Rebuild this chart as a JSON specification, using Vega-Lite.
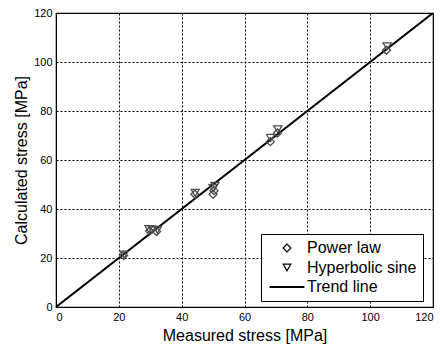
{
  "$schema": "https://vega.github.io/schema/vega-lite/v6.json",
  "width": 377,
  "height": 294,
  "autosize": {"type": "none"},
  "padding": {"left": 56, "top": 13, "right": 7, "bottom": 37},
  "background": "white",
  "config": {
    "font": "Liberation Sans",
    "view": {"stroke": "black", "strokeWidth": 1.2},
    "axis": {
      "domainColor": "black",
      "labelColor": "black",
      "titleColor": "black",
      "labelFontSize": 11,
      "titleFontSize": 16,
      "titleFontWeight": "normal",
      "gridColor": "black",
      "gridDash": [2, 2],
      "gridOpacity": 1,
      "gridWidth": 1,
      "ticks": false,
      "labelPadding": 4,
      "labelOverlap": false
    }
  },
  "datasets": {
    "pts": [
      {"x": 21.5, "y": 21.0, "series": "Power law"},
      {"x": 29.8, "y": 31.0, "series": "Power law"},
      {"x": 32.0, "y": 30.8, "series": "Power law"},
      {"x": 44.2, "y": 46.0, "series": "Power law"},
      {"x": 50.0, "y": 46.0, "series": "Power law"},
      {"x": 50.3, "y": 47.5, "series": "Power law"},
      {"x": 68.2, "y": 67.5, "series": "Power law"},
      {"x": 70.5, "y": 71.0, "series": "Power law"},
      {"x": 105.2, "y": 104.8, "series": "Power law"},
      {"x": 21.7, "y": 21.4, "series": "Hyperbolic sine"},
      {"x": 29.6, "y": 31.8, "series": "Hyperbolic sine"},
      {"x": 30.6, "y": 31.6, "series": "Hyperbolic sine"},
      {"x": 32.3, "y": 31.5, "series": "Hyperbolic sine"},
      {"x": 44.3, "y": 46.6, "series": "Hyperbolic sine"},
      {"x": 50.0, "y": 48.5, "series": "Hyperbolic sine"},
      {"x": 50.6, "y": 49.4, "series": "Hyperbolic sine"},
      {"x": 68.3, "y": 69.0, "series": "Hyperbolic sine"},
      {"x": 70.6, "y": 72.5, "series": "Hyperbolic sine"},
      {"x": 105.4, "y": 106.4, "series": "Hyperbolic sine"}
    ],
    "trend": [
      {"x": 0, "y": 0},
      {"x": 120, "y": 120}
    ]
  },
  "layer": [
    {
      "data": {"name": "trend"},
      "mark": {"type": "line", "color": "black", "strokeWidth": 2, "clip": true},
      "encoding": {
        "x": {"field": "x", "type": "quantitative", "scale": {"domain": [0, 120], "nice": false},
          "axis": {"title": "Measured stress [MPa]", "values": [0,20,40,60,80,100,120], "titlePadding": 5}},
        "y": {"field": "y", "type": "quantitative", "scale": {"domain": [0, 120], "nice": false},
          "axis": {"title": "Calculated stress [MPa]", "values": [0,20,40,60,80,100,120], "titlePadding": 4}}
      }
    },
    {
      "data": {"name": "pts"},
      "mark": {"type": "point", "filled": false, "strokeWidth": 1.3, "size": 65, "opacity": 1},
      "encoding": {
        "x": {"field": "x", "type": "quantitative"},
        "y": {"field": "y", "type": "quantitative"},
        "color": {"value": "#4d4d4d"},
        "shape": {
          "field": "series",
          "type": "nominal",
          "scale": {"domain": ["Power law", "Hyperbolic sine", "Trend line"], "range": ["diamond", "triangle-down", "M-4.5,-0.12H4.5M-4.5,0.12H4.5"]},
          "legend": {
            "title": null,
            "orient": "none",
            "legendX": 205,
            "legendY": 221,
            "strokeColor": "black",
            "fillColor": "white",
            "padding": 6,
            "labelFontSize": 16,
            "labelColor": "black",
            "rowPadding": 3.5,
            "symbolStrokeColor": "black",
            "symbolFillColor": "transparent",
            "symbolStrokeWidth": 1.2,
            "symbolSize": 60,
            "symbolOffset": 12,
            "labelOffset": 12
          }
        }
      }
    }
  ]
}
